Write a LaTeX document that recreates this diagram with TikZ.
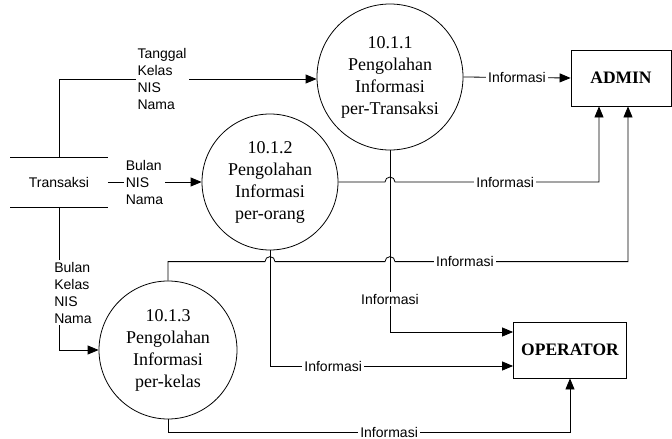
\documentclass[tikz,border=0pt]{standalone}
\usepackage{fontspec}
\setmainfont{Liberation Serif}
\newfontfamily\lblfont{Liberation Sans}
\usetikzlibrary{arrows.meta}

\begin{document}
\begin{tikzpicture}[
    x=1pt, y=-1pt, line width=0.8pt,
    proc/.style={circle, draw, inner sep=0pt, align=center, font=\fontsize{18}{22}\selectfont},
    ent/.style={rectangle, draw, minimum height=56pt, font=\fontsize{17.5}{21}\selectfont\bfseries},
    store/.style={rectangle, minimum width=97pt, minimum height=49pt, font=\lblfont\fontsize{14}{17}\selectfont},
    lbl/.style={fill=white, inner sep=2pt, align=left, font=\lblfont\fontsize{14}{17}\selectfont},
    arr/.style={-{Triangle[length=11pt,width=9pt]}}
]
\useasboundingbox (0,0) rectangle (672,439);

\node[proc, minimum size=146pt] (p1) at (390,77) {10.1.1\\Pengolahan\\Informasi\\per-Transaksi};
\node[proc, minimum size=136pt] (p2) at (270,182) {10.1.2\\Pengolahan\\Informasi\\per-orang};
\node[proc, minimum size=138pt] (p3) at (168,350) {10.1.3\\Pengolahan\\Informasi\\per-kelas};
\node[ent, minimum width=100pt] (admin) at (621,78) {ADMIN};
\node[ent, minimum width=113pt] (op) at (570,350) {OPERATOR};
\node[store] (trans) at (59,182) {Transaksi};
\draw (trans.north west) -- (trans.north east) (trans.south west) -- (trans.south east);

% helper points for the line jumps
\coordinate (j3) at ([yshift=19pt]p3.north);
\coordinate (j9) at ([yshift=-13pt]p3.south);
\coordinate (x1) at (p1.south |- p2.east);
\coordinate (x2) at (p2.south |- j3);
\coordinate (x3) at (p1.south |- j3);

% inputs from Transaksi
\draw[arr] (trans.north) |- node[lbl, pos=0.7] {Tanggal\\Kelas\\NIS\\Nama} ([yshift=-2pt]p1.west);
\draw[arr] (trans.east) -- node[lbl, pos=0.39] {Bulan\\NIS\\Nama} (p2.west);
\draw[arr] (trans.south) |- node[lbl, pos=0.3, xshift=14pt] {Bulan\\Kelas\\NIS\\Nama} (p3.west);

% to OPERATOR
\draw[arr] (p1.south) |- node[lbl, pos=0.41] {Informasi} ([yshift=18pt]op.west);
\draw[arr] (p2.south) |- node[lbl, pos=0.63] {Informasi} ([yshift=-16pt]op.west);
\draw[arr] (p3.south) -- (j9) -| node[lbl, pos=0.275] {Informasi} (op.south);

% to ADMIN
\draw[arr] (p1.east) -- node[lbl] {Informasi} (admin.west);
\draw[arr] (p2.east) -- ([xshift=-5pt]x1) arc[start angle=180, end angle=0, radius=5pt]
    -| node[lbl, pos=0.27] {Informasi} ([xshift=-22pt]admin.south);
\draw[arr] (p3.north) -- (j3) -- ([xshift=-5pt]x2) arc[start angle=180, end angle=0, radius=5pt]
    -- ([xshift=-5pt]x3) arc[start angle=180, end angle=0, radius=5pt]
    -| node[lbl, pos=0.15] {Informasi} ([xshift=7pt]admin.south);

\end{tikzpicture}
\end{document}
